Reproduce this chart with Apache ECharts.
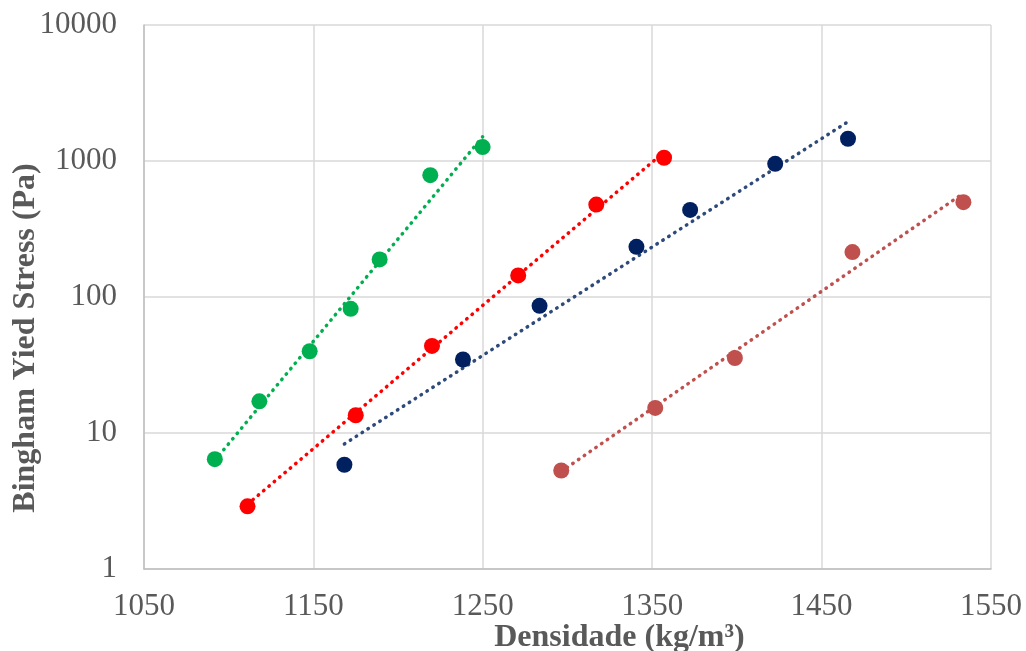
<!DOCTYPE html>
<html>
<head>
<meta charset="utf-8">
<script src="https://cdn.jsdelivr.net/npm/echarts@6/dist/echarts.min.js"></script>
<style>
  html, body { margin: 0; padding: 0; background: #fff; }
  #chart { width: 1026px; height: 651px; }
</style>
</head>
<body>
<div id="chart"></div>
<script>
// pontos medidos [densidade, tensão]
const greenPts = [[1091.8, 6.42], [1118.1, 17.1], [1147.8, 39.9], [1172, 81.9], [1189.1, 189], [1219, 787], [1249.9, 1266]];
const redPts = [[1111.1, 2.89], [1175, 13.5], [1220, 43.7], [1270.9, 144], [1317, 478], [1357, 1056]];
const navyPts = [[1168.3, 5.84], [1238.3, 34.7], [1283.5, 86.1], [1340.7, 234], [1372.4, 437], [1422.6, 953], [1465.6, 1458]];
const brownPts = [[1296.3, 5.3], [1351.8, 15.3], [1398.8, 35.6], [1468.2, 214], [1533.7, 498]];

// linhas de tendência (início / fim)
const greenTrend = [[1091.8, 6.28], [1249.9, 1508]];
const redTrend = [[1111.1, 2.99], [1357, 1163]];
const navyTrend = [[1168.3, 8.31], [1465.6, 1945]];
const brownTrend = [[1296.3, 5.21], [1533.7, 580]];

const chart = echarts.init(document.getElementById('chart'));

const font = 'Liberation Serif, Times New Roman, serif';

function trend(data, color) {
  return {
    type: 'line',
    data: data,
    symbol: 'none',
    silent: true,
    z: 1,
    lineStyle: { color: color, width: 3.5, type: [0.5, 6.5], cap: 'round' }
  };
}

function points(data, color) {
  return {
    type: 'scatter',
    data: data,
    symbolSize: 16,
    z: 2,
    itemStyle: { color: color, opacity: 1 }
  };
}

chart.setOption({
  animation: false,
  grid: { left: 144, right: 35, top: 25, bottom: 82, outerBoundsMode: 'none', containLabel: false },
  // título do eixo y posicionado à mão
  graphic: [{
    type: 'text',
    x: 26,
    y: 338,
    rotation: Math.PI / 2,
    style: {
      text: 'Bingham Yied Stress (Pa)',
      font: 'bold 32px ' + font,
      fill: '#595959',
      textAlign: 'center',
      textVerticalAlign: 'middle'
    }
  }],
  xAxis: {
    type: 'value',
    min: 1050,
    max: 1550,
    interval: 100,
    name: 'Densidade (kg/m³)',
    nameLocation: 'middle',
    nameGap: 53,
    nameMoveOverlap: false,
    nameTextStyle: {
      fontFamily: font, fontSize: 32, fontWeight: 'bold', color: '#595959',
      padding: [0, 0, 0, 104]
    },
    axisLine: { lineStyle: { color: '#bfbfbf', width: 1.5 } },
    axisTick: { show: false },
    axisLabel: { fontFamily: font, fontSize: 31, color: '#595959', margin: 22, formatter: v => String(v) },
    splitLine: { show: true, lineStyle: { color: '#d9d9d9', width: 1.5 } }
  },
  yAxis: {
    type: 'log',
    logBase: 10,
    min: 1,
    max: 10000,
    axisLine: { show: true, lineStyle: { color: '#bfbfbf', width: 1.5 } },
    axisTick: { show: false },
    axisLabel: { fontFamily: font, fontSize: 31, color: '#595959', margin: 27, formatter: v => String(v) },
    splitLine: { show: true, lineStyle: { color: '#d9d9d9', width: 1.5 } }
  },
  series: [
    trend(greenTrend, '#00b050'),
    trend(redTrend, '#ff0000'),
    trend(navyTrend, '#2e4a7a'),
    trend(brownTrend, '#c0504d'),
    points(greenPts, '#00b050'),
    points(redPts, '#ff0000'),
    points(navyPts, '#002060'),
    points(brownPts, '#c0504d')
  ]
});
</script>
</body>
</html>
